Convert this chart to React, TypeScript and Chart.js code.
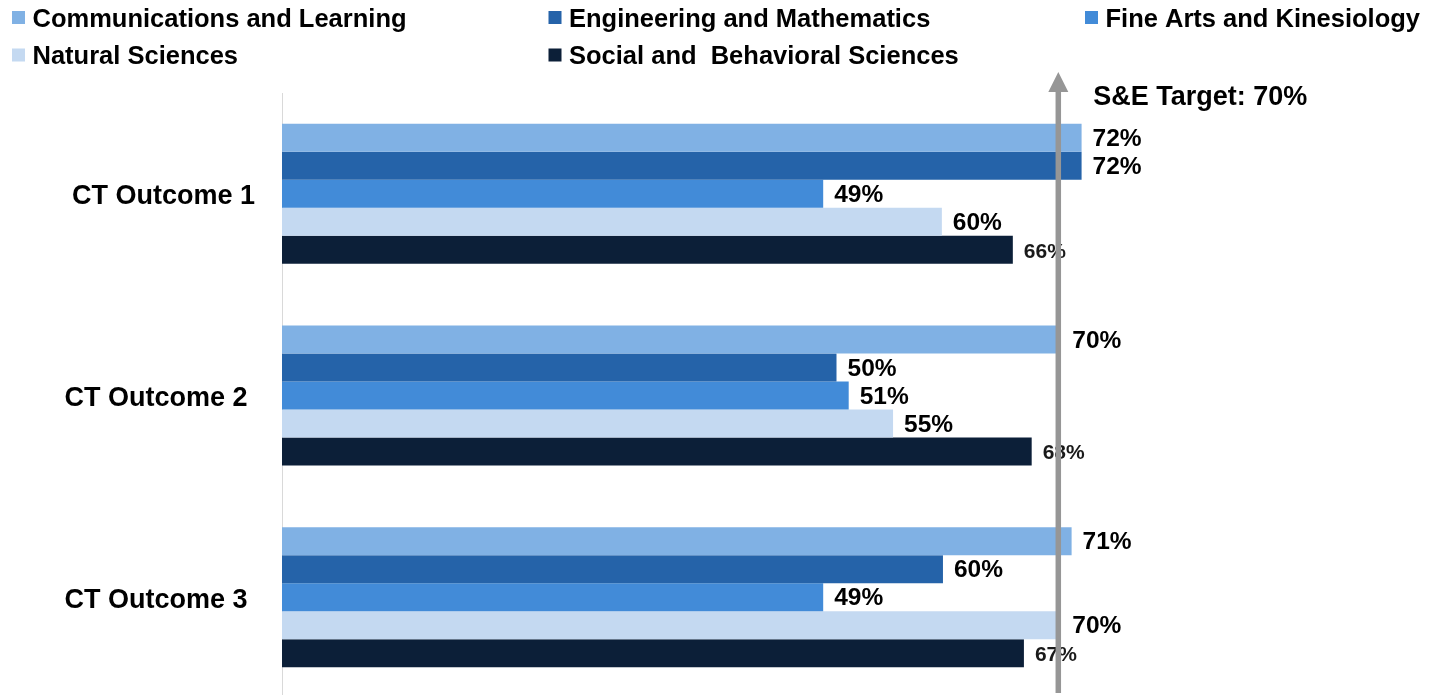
import React, { useEffect, useRef } from "react";
import { Chart, registerables } from "chart.js";

Chart.register(...registerables);

const categories = ["CT Outcome 1", "CT Outcome 2 ", "CT Outcome 3 "];
const seriesNames = [
  "Communications and Learning",
  "Engineering and Mathematics",
  "Fine Arts and Kinesiology",
  "Natural Sciences",
  "Social and  Behavioral Sciences",
];
const commLearning = [72.1, 69.8, 71.2];
const engMath = [72.1, 50.0, 59.6];
const fineArts = [48.8, 51.1, 48.8];
const naturalSci = [59.5, 55.1, 69.9];
const socialBehav = [65.9, 67.6, 66.9];
const seriesColors = ["#80b1e4", "#2563a9", "#428bd8", "#c4d9f1", "#0c1f38"];
const TARGET = 70;
const targetLabel = "S&E Target: 70%";

const FONT = '"Liberation Sans", Arial, sans-serif';

const overlayPlugin = {
  id: "overlay",
  afterDatasetsDraw(chart: any) {
    const ctx = chart.ctx as CanvasRenderingContext2D;
    const xs = chart.scales.x;
    const arrowX = xs.getPixelForValue(TARGET);
    ctx.save();
    // value labels
    chart.data.datasets.forEach((ds: any, di: number) => {
      const meta = chart.getDatasetMeta(di);
      const small = di === 4;
      meta.data.forEach((bar: any, i: number) => {
        const v = ds.data[i] as number;
        const label = Math.round(v) + "%";
        let x = bar.x + 11;
        if (!small && x > arrowX - 20 && x < arrowX + 14) x = arrowX + 14;
        ctx.font = small ? `bold 21px ${FONT}` : `bold 24.5px ${FONT}`;
        ctx.fillStyle = small ? "#1a1a1a" : "#000000";
        ctx.textAlign = "left";
        ctx.textBaseline = "middle";
        ctx.fillText(label, x, bar.y + (small ? 2 : 1.5));
      });
    });
    // arrow
    const top = chart.chartArea.top;
    const tipY = top - 21;
    const baseY = top - 1;
    const bottomY = chart.chartArea.bottom - 5;
    ctx.fillStyle = "#969696";
    ctx.fillRect(arrowX - 2.75, baseY, 5.5, bottomY - baseY);
    ctx.beginPath();
    ctx.moveTo(arrowX, tipY);
    ctx.lineTo(arrowX - 10, baseY);
    ctx.lineTo(arrowX + 10, baseY);
    ctx.closePath();
    ctx.fill();
    // target text
    ctx.fillStyle = "#000000";
    ctx.font = `bold 27px ${FONT}`;
    ctx.textAlign = "left";
    ctx.textBaseline = "alphabetic";
    ctx.fillText(targetLabel, arrowX + 35, 105);
    // legend
    ctx.font = `bold 25.5px ${FONT}`;
    const colW = 536.5;
    const rowY = [17.5, 55];
    chart.data.datasets.forEach((ds: any, di: number) => {
      const col = di % 3;
      const row = Math.floor(di / 3);
      const bx = 12 + col * colW;
      const cy = rowY[row];
      ctx.fillStyle = ds.backgroundColor;
      ctx.fillRect(bx, cy - 6.5, 13, 13);
      ctx.fillStyle = "#000000";
      ctx.fillText(ds.label, bx + 20.5, cy + 9);
    });
    ctx.restore();
  },
};

export default function App() {
  const ref = useRef<HTMLCanvasElement | null>(null);
  useEffect(() => {
    if (!ref.current) return;
    const seriesData = [commLearning, engMath, fineArts, naturalSci, socialBehav];
    const chart = new Chart(ref.current, {
      type: "bar",
      data: {
        labels: categories,
        datasets: seriesNames.map((name, i) => ({
          label: name,
          data: seriesData[i],
          backgroundColor: seriesColors[i],
          borderWidth: 0,
          categoryPercentage: 0.694,
          barPercentage: 1,
        })),
      },
      options: {
        animation: false,
        responsive: true,
        maintainAspectRatio: false,
        devicePixelRatio: 1,
        indexAxis: "y",
        layout: { padding: { top: 93, right: 43, bottom: 0, left: 0 } },
        plugins: { legend: { display: false }, tooltip: { enabled: false } },
        scales: {
          x: { display: false, min: 0, max: 100 },
          y: {
            grid: { display: false, drawTicks: false },
            border: { display: true, color: "#d9d9d9", width: 1 },
            ticks: {
              padding: 27,
              labelOffset: 3,
              color: "#000000",
              font: { family: FONT, size: 27, weight: "bold" },
            },
            afterFit(scale: any) {
              scale.width = 282;
              scale.paddingTop = 0;
              scale.paddingBottom = 0;
            },
          },
        },
      } as any,
      plugins: [overlayPlugin],
    });
    return () => chart.destroy();
  }, []);
  return (
    <div
      style={{
        position: "absolute",
        left: 0,
        top: 0,
        width: 1434,
        height: 695,
        overflow: "hidden",
        background: "#ffffff",
      }}
    >
      <div style={{ position: "relative", width: 1434, height: 698 }}>
        <canvas ref={ref} />
      </div>
    </div>
  );
}
